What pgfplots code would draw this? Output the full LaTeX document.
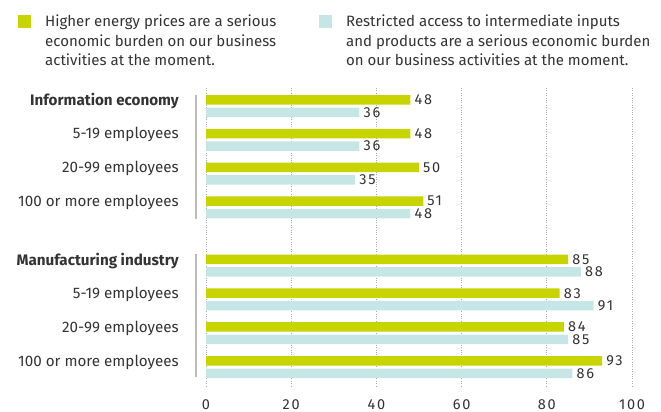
\documentclass[border=0pt]{standalone}
\usepackage{pgfplots}
\pgfplotsset{compat=1.18}
\usepackage{fontspec}
\setmainfont{Fira Sans}
\newfontfamily\numfont{Fira Sans}[LetterSpace=12]
\definecolor{cyellow}{HTML}{C8D400}
\definecolor{cblue}{HTML}{C6E6E5}
\definecolor{ctext}{HTML}{333333}
\definecolor{cgrid}{HTML}{AAAAAA}
\definecolor{cline}{HTML}{BBBBBB}
\begin{document}
\begin{tikzpicture}
\begin{axis}[
  at={(206pt,24pt)}, anchor=south west,
  scale only axis, width=426pt, height=300pt,
  xmin=0, xmax=100, ymin=-0.533, ymax=8.34,
  y dir=reverse,
  xbar, bar width=9.5pt,
  axis line style={draw=none},
  major tick length=0pt,
  xtick={0,20,...,100},
  xmajorgrids, grid style={cgrid, dotted, line width=0.8pt},
  ytick={0,1,2,3,4.72,5.72,6.72,7.72},
  yticklabels={\bfseries Information economy, 5-19 employees, 20-99 employees, 100 or more employees, \bfseries Manufacturing industry, 5-19 employees, 20-99 employees, 100 or more employees},
  yticklabel style={anchor=east, inner sep=0pt, xshift=-27pt, yshift=5pt, font=\fontsize{15.2}{17}\selectfont, text=ctext},
  xticklabel style={anchor=north, inner sep=0pt, yshift=-11pt, font=\numfont\fontsize{14.5}{17}\selectfont, text=ctext},
  /pgf/number format/assume math mode=true,
  nodes near coords,
  every node near coord/.append style={anchor=west, inner sep=0pt, xshift=4pt, font=\numfont\fontsize{14.5}{17}\selectfont, text=ctext},
  legend columns=2,
  legend style={draw=none, fill=none, inner sep=0pt, at={(-0.4413,1.25)}, anchor=north west,
    cells={anchor=base west, inner sep=0pt},
    font=\fontsize{15}{19.3}\selectfont, text=ctext,
    /tikz/every odd column/.append style={column sep=12pt},
    /tikz/every even column/.append style={column sep=32pt}},
  legend image code/.code={\fill[#1] (0pt,-1pt) rectangle (13pt,12pt);},
  clip=false,
]
\addplot[fill=cyellow, draw=none, bar shift=6.25pt] coordinates {(48,0) (48,1) (50,2) (51,3) (85,4.72) (83,5.72) (84,6.72) (93,7.72)};
\addlegendentry{\parbox[t]{240pt}{Higher energy prices are a serious\\economic burden on our business\\activities at the moment.}}
\addplot[fill=cblue, draw=none, bar shift=-6.25pt] coordinates {(36,0) (36,1) (35,2) (48,3) (88,4.72) (91,5.72) (85,6.72) (86,7.72)};
\addlegendentry{\parbox[t]{320pt}{Restricted access to intermediate inputs\\and products are a serious economic burden\\on our business activities at the moment.}}
\draw[cline, line width=1.5pt] (axis cs:-2.35,-0.33) -- (axis cs:-2.35,3.34);
\draw[cline, line width=1.5pt] (axis cs:-2.35,4.38) -- (axis cs:-2.35,8.02);
\end{axis}
\pgfresetboundingbox
\path (0,0) rectangle (661pt,412pt);
\end{tikzpicture}
\end{document}
